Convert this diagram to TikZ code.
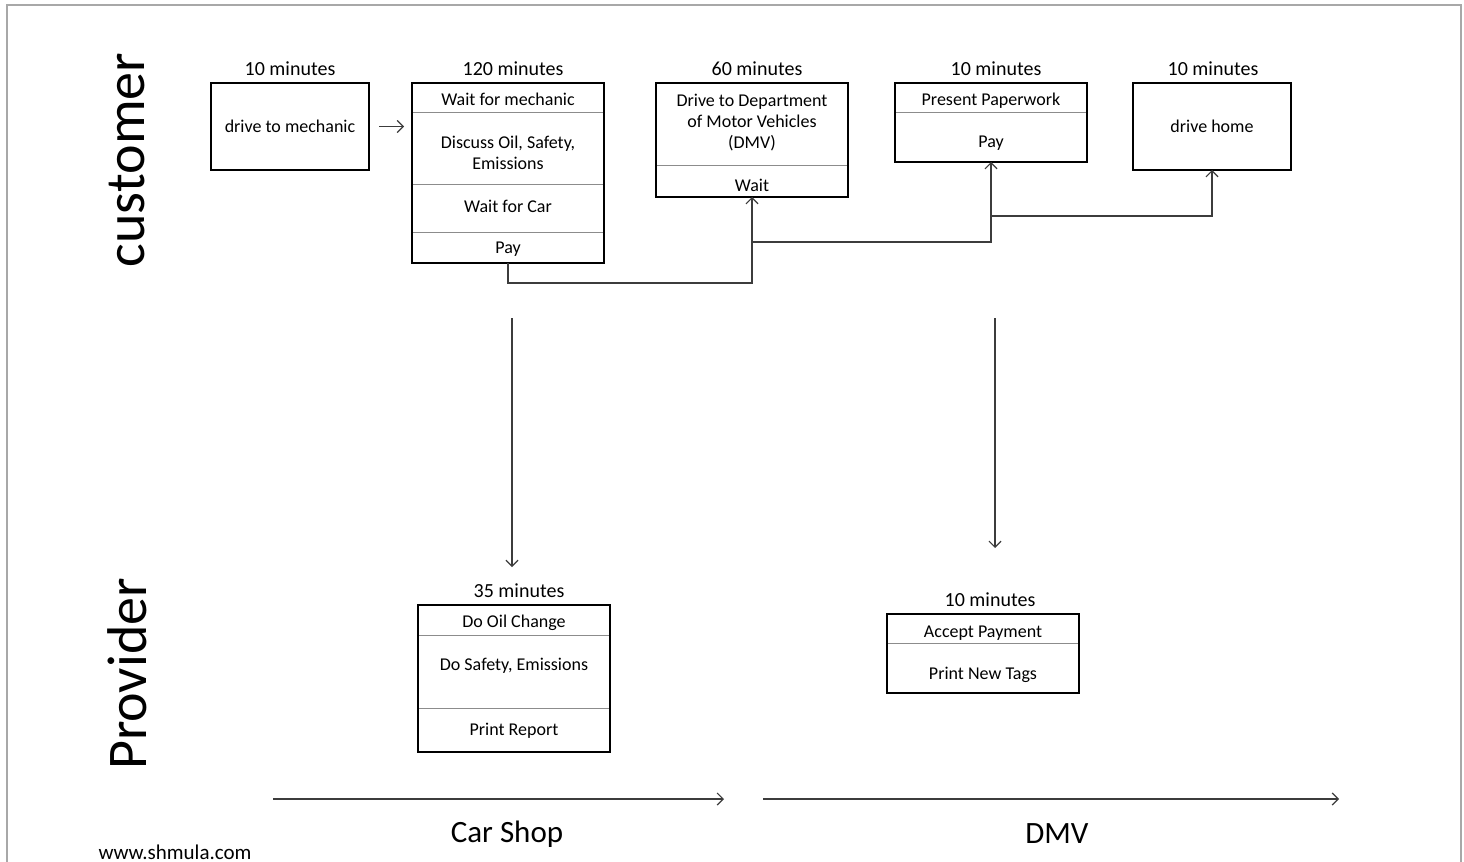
\documentclass[tikz,border=0pt]{standalone}
\usepackage{fontspec}
\setmainfont{Carlito}
\usetikzlibrary{arrows.meta,positioning}
\definecolor{rulegrey}{HTML}{8C8C8C}
\definecolor{linegrey}{HTML}{3C3C3C}
\definecolor{framegrey}{HTML}{A8A8A8}
% text of one compartment, optionally moved up/down without changing its size
\newcommand{\boxtext}[2][0pt]{\raisebox{#1}[\height][\depth]{\begin{tabular}{@{}c@{}}#2\end{tabular}}}
\tikzset{
    part/.style={
           rectangle,
           draw=rulegrey,
           line width=0.5pt,
           minimum width=96pt,
           inner sep=1pt,
           outer sep=0pt,
           font=\fontsize{9}{10.5}\selectfont,
           },
    outline/.style={draw=black, line width=1.2pt},
    mins/.style={font=\fontsize{10}{12}\selectfont, inner sep=1pt},
    flow/.style={->, draw=linegrey, line width=0.6pt},
    lane/.style={font=\fontsize{28}{30}\selectfont, rotate=90},
    place/.style={font=\fontsize{15.5}{18}\selectfont},
}

\begin{document}
\begin{tikzpicture}[x=0.5pt,y=-0.5pt,>={Straight Barb[length=3pt,width=6pt]}]
\useasboundingbox (0,0) rectangle (1464,862);
\draw[framegrey, line width=0.6pt] (7,870) |- (1461,5) -- (1461,870);

% lanes
\node[lane] (customer) at (127,160) {customer};
\node[lane] (provider) at (127,674) {Provider};

% customer steps
\node[part,outline,minimum width=79pt,minimum height=43.5pt,anchor=north west] (drive) at (211,83) {\boxtext[-0.8pt]{drive to mechanic}};
\node[mins,above=2.7pt of drive] (drivemin) {10 minutes};

\node[part,minimum height=14.5pt,anchor=north west] (mechwait) at (412,83) {\boxtext[-2pt]{Wait for mechanic}};
\node[part,minimum height=36pt,below=0pt of mechwait] (discuss) {\boxtext[-3.2pt]{Discuss Oil, Safety,\\Emissions}};
\node[part,minimum height=24pt,below=0pt of discuss] (carwait) {\boxtext{Wait for Car}};
\node[part,minimum height=15.5pt,below=0pt of carwait] (mechpay) {\boxtext[-1pt]{Pay}};
\draw[outline] (mechwait.north west) rectangle (mechpay.south east);
\node[mins,above=2.7pt of mechwait,xshift=2.5pt] (mechmin) {120 minutes};

\node[part,minimum height=41pt,anchor=north west] (dmvdrive) at (656,83) {\boxtext[0.5pt]{Drive to Department\\of Motor Vehicles\\(DMV)}};
\node[part,minimum height=16pt,below=0pt of dmvdrive] (dmvwait) {\boxtext[-3pt]{Wait}};
\draw[outline] (dmvdrive.north west) rectangle (dmvwait.south east);
\node[mins,above=2.7pt of dmvdrive,xshift=2.5pt] (dmvmin) {60 minutes};

\node[part,minimum height=14.5pt,anchor=north west] (papers) at (895,83) {\boxtext[-2.1pt]{Present Paperwork}};
\node[part,minimum height=25pt,below=0pt of papers] (dmvpay) {\boxtext[-3.3pt]{Pay}};
\draw[outline] (papers.north west) rectangle (dmvpay.south east);
\node[mins,above=2.7pt of papers,xshift=2.5pt] (papermin) {10 minutes};

\node[part,outline,minimum width=79pt,minimum height=43.5pt,anchor=north west] (home) at (1133,83) {\boxtext[-1pt]{drive home}};
\node[mins,above=2.7pt of home,xshift=0.5pt] (homemin) {10 minutes};

% provider steps
\node[part,minimum height=15pt,anchor=north west] (oil) at (418,605) {\boxtext[-1.8pt]{Do Oil Change}};
\node[part,minimum height=36.5pt,below=0pt of oil] (safety) {\boxtext[2.7pt]{Do Safety, Emissions}};
\node[part,minimum height=22pt,below=0pt of safety] (report) {\boxtext[-0.5pt]{Print Report}};
\draw[outline] (oil.north west) rectangle (report.south east);
\node[mins,above=2.7pt of oil,xshift=2.5pt] (shopmin) {35 minutes};

\node[part,minimum height=14.5pt,anchor=north west] (accept) at (887,614) {\boxtext[-2.5pt]{Accept Payment}};
\node[part,minimum height=25pt,below=0pt of accept] (tags) {\boxtext[-3.5pt]{Print New Tags}};
\draw[outline] (accept.north west) rectangle (tags.south east);
\node[mins,above=2.7pt of accept,xshift=3.5pt] (tagmin) {10 minutes};

% customer flow
\draw[flow,shorten <=5pt,shorten >=4pt] (drive) -- (drive -| discuss.west);
\draw[flow] (mechpay.south) -- ++(0,-10pt) -| (dmvwait.south);
\coordinate (split1) at (752,242);
\coordinate (split2) at (991,216);
\draw[flow] (split1) -| (dmvpay.south);
\draw[flow] (split2) -| (home.south);

% hand-offs to the providers
\coordinate (shopfrom) at (512,318);
\coordinate (shopto) at (512,567);
\coordinate (dmvfrom) at (995,318);
\coordinate (dmvto) at (995,548);
\draw[flow] (shopfrom) -- (shopto);
\draw[flow] (dmvfrom) -- (dmvto);

% provider axis
\coordinate (shopstart) at (273,799);
\coordinate (shopend) at (724,799);
\coordinate (dmvstart) at (763,799);
\coordinate (dmvend) at (1339,799);
\draw[flow] (shopstart) -- (shopend);
\draw[flow] (dmvstart) -- (dmvend);
\node[place] (shop) at (507,834) {Car Shop};
\node[place] (dmv) at (1057,834) {DMV};

\node[font=\fontsize{10.5}{12}\selectfont] (site) at (175,852) {www.shmula.com};
\end{tikzpicture}
\end{document}
